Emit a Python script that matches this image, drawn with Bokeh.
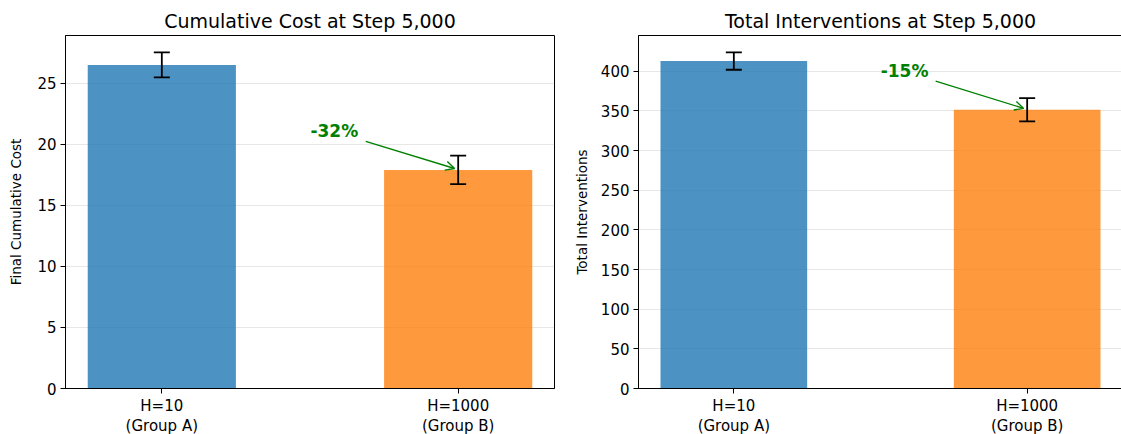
from bokeh.plotting import figure
from bokeh.layouts import row
from bokeh.models import (Range1d, FixedTicker, SingleIntervalTicker, Whisker, ColumnDataSource,
                          Arrow, OpenHead, TeeHead)
from bokeh.core.properties import value
from bokeh.embed import file_html
from bokeh.resources import INLINE

# ---- data ----
groups = ["H=10\n(Group A)", "H=1000\n(Group B)"]
positions = [0, 1]
cost_mean = [26.5, 17.9]
cost_err = [1.03, 1.17]
interv_mean = [413.0, 351.5]
interv_err = [11.0, 14.7]
bar_colors = ["#1f77b4", "#ff7f0e"]
titles = ["Cumulative Cost at Step 5,000", "Total Interventions at Step 5,000"]
ylabels = ["Final Cumulative Cost", "Total Interventions"]
pct_labels = ["-32%", "-15%"]

FONT = "DejaVu Sans"


def make_panel(means, errs, title, ylabel, pct, tick_interval, left_border, frame_w, right_border, label_standoff):
    ymax = max(m + e for m, e in zip(means, errs)) * 1.05
    p = figure(output_backend="svg", toolbar_location=None,
               frame_width=frame_w, frame_height=353,
               min_border_left=left_border, min_border_right=right_border,
               min_border_top=35, min_border_bottom=46,
               x_range=Range1d(-0.325, 1.325), y_range=Range1d(0, ymax),
               title=title)
    p.title.align = "center"
    p.title.text_font = FONT
    p.title.text_font_size = "19px"
    p.title.text_font_style = "normal"
    p.title.text_color = "#000000"
    p.title.offset = 0
    p.title.standoff = 8

    src = ColumnDataSource(dict(x=positions, top=means,
                                upper=[m + e for m, e in zip(means, errs)],
                                lower=[m - e for m, e in zip(means, errs)],
                                color=bar_colors))
    p.vbar(x="x", top="top", width=0.5, bottom=0, source=src,
           fill_color="color", fill_alpha=0.8, line_color=None)
    w = Whisker(base="x", upper="upper", lower="lower", source=src,
                line_color="black", line_width=1.8, level="overlay",
                upper_head=TeeHead(size=16, line_color="black", line_width=1.8),
                lower_head=TeeHead(size=16, line_color="black", line_width=1.8))
    p.add_layout(w)

    # annotation arrow pointing at second bar
    b = means[1]
    tx, ty = 0.582, b + 0.109 * ymax
    sx, sy = 0.688, b + 0.081 * ymax
    p.add_layout(Arrow(end=OpenHead(size=9, line_color="green", line_width=1.4),
                       x_start=sx, y_start=sy, x_end=positions[1] - 0.012, y_end=b + 0.004 * ymax,
                       line_color="green", line_width=1.4, level="overlay"))
    p.text(x=[tx], y=[ty], text=[pct], text_font=value(FONT), text_font_size="17px",
           text_font_style="bold", text_color="green", text_align="center",
           text_baseline="middle")

    # axes styling
    p.xaxis.ticker = FixedTicker(ticks=positions)
    p.xaxis.major_label_overrides = {pos: g for pos, g in zip(positions, groups)}
    p.yaxis.ticker = SingleIntervalTicker(interval=tick_interval)
    for ax in (p.xaxis[0], p.yaxis[0]):
        ax.major_label_text_font = FONT
        ax.major_label_text_font_size = "15px"
        ax.major_label_text_color = "#000000"
        ax.axis_line_color = "#000000"
        ax.major_tick_line_color = "#000000"
        ax.major_tick_in = 0
        ax.major_tick_out = 5
        ax.minor_tick_line_color = None
        ax.major_label_standoff = 4
    p.xaxis.major_label_text_line_height = 1.15
    p.xaxis.major_label_standoff = 3
    p.yaxis.axis_label = ylabel
    p.yaxis.axis_label_text_font = FONT
    p.yaxis.axis_label_text_font_size = "13.5px"
    p.yaxis.axis_label_text_font_style = "normal"
    p.yaxis.axis_label_text_color = "#000000"
    p.yaxis.axis_label_standoff = label_standoff
    p.xgrid.grid_line_color = None
    p.ygrid.grid_line_color = "#b0b0b0"
    p.ygrid.grid_line_alpha = 0.3
    p.outline_line_color = "#000000"
    p.outline_line_width = 1
    p.outline_line_alpha = 1
    p.background_fill_color = "white"
    p.border_fill_color = "white"
    return p


p1 = make_panel(cost_mean, cost_err, titles[0], ylabels[0], pct_labels[0], 5, 65, 489, 16, 10)
p2 = make_panel(interv_mean, interv_err, titles[1], ylabels[1], pct_labels[1], 50, 65, 484, 2, 8)
layout = row(p1, p2, spacing=0)

open("out.html", "w").write(file_html(layout, INLINE))
